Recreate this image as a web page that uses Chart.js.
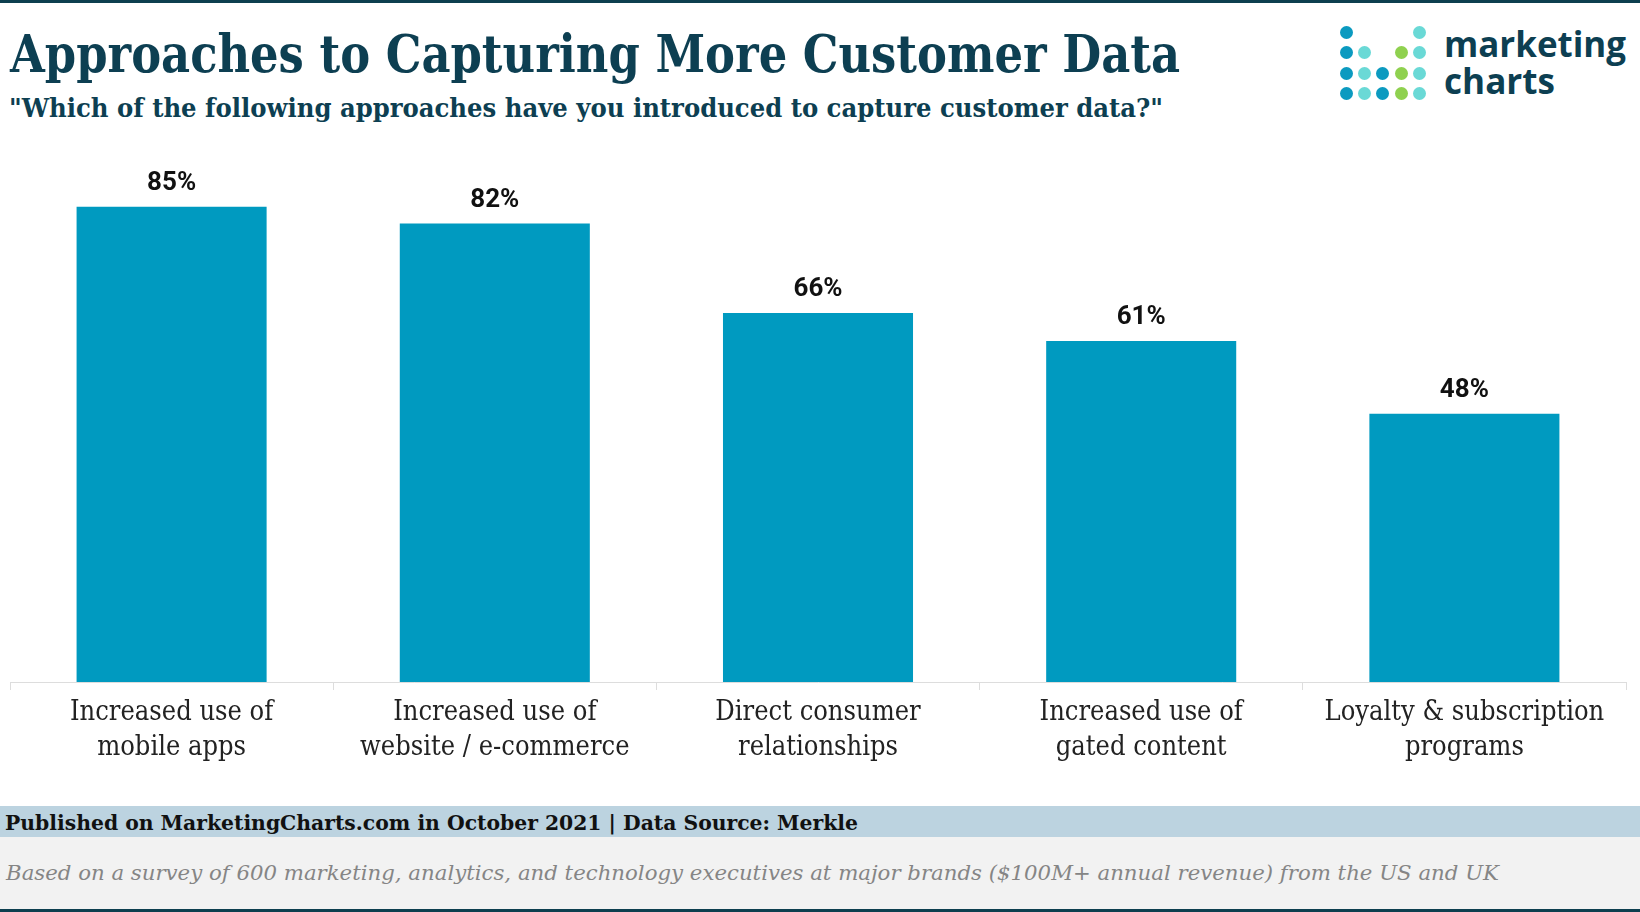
<!DOCTYPE html>
<html>
<head>
<meta charset="utf-8">
<script src="https://cdn.jsdelivr.net/npm/chart.js@4.4.0/dist/chart.umd.min.js"></script>
<style>
  html, body { margin: 0; padding: 0; background: #fff; }
  body { width: 1640px; height: 912px; position: relative; overflow: hidden; }
  .fit { position: absolute; white-space: nowrap; transform-origin: 0 0; }
  #topline { position: absolute; left: 0; top: 0; width: 1640px; height: 3px; background: #0d3f4f; }
  #title { left: 10px; top: 22px; font: bold 52px "DejaVu Serif Condensed", "DejaVu Serif", serif; color: #0d3f52; line-height: 64px; }
  #subtitle { left: 9px; top: 93px; font: bold 26px "DejaVu Serif Condensed", "DejaVu Serif", serif; color: #0d3f52; line-height: 30px; }
  .dot { position: absolute; width: 13px; height: 13px; border-radius: 50%; }
  .logo-txt { font: bold 35px "Open Sans", sans-serif; color: #0d3f52; line-height: 40px; }
  #chartbox { position: absolute; left: 0; top: 120px; width: 1640px; height: 660px; }
  #pubband { position: absolute; left: 0; top: 806px; width: 1640px; height: 31px; background: #bcd3e0; }
  #pub { left: 5px; top: 811px; font: bold 21px "DejaVu Serif Condensed", "DejaVu Serif", serif; color: #111; line-height: 24px; }
  #noteband { position: absolute; left: 0; top: 837px; width: 1640px; height: 72px; background: #f2f2f2; }
  #note { left: 6px; top: 861px; font: italic 20px "DejaVu Serif Condensed", "DejaVu Serif", serif; color: #858585; line-height: 24px; }
  #bottomline { position: absolute; left: 0; top: 909px; width: 1640px; height: 3px; background: #0d3f4f; }
</style>
</head>
<body>
<div id="topline"></div>
<div id="title" class="fit" data-w="1170">Approaches to Capturing More Customer Data</div>
<div id="subtitle" class="fit" data-w="1154">"Which of the following approaches have you introduced to capture customer data?"</div>
<div id="logo"></div>
<div class="fit logo-txt" data-w="182" style="left:1444px; top:24px;">marketing</div>
<div class="fit logo-txt" data-w="111" style="left:1444px; top:61px;">charts</div>
<div id="chartbox"><canvas id="chart"></canvas></div>
<div id="pubband"></div>
<div id="pub" class="fit" data-w="853">Published on MarketingCharts.com in October 2021 | Data Source: Merkle</div>
<div id="noteband"></div>
<div id="note" class="fit" data-w="1493">Based on a survey of 600 marketing, analytics, and technology executives at major brands ($100M+ annual revenue) from the US and UK</div>
<div id="bottomline"></div>
<script>
// chart data
const categories = [
  ['Increased use of', 'mobile apps'],
  ['Increased use of', 'website / e-commerce'],
  ['Direct consumer', 'relationships'],
  ['Increased use of', 'gated content'],
  ['Loyalty & subscription', 'programs']
];
const shares = [85, 82, 66, 61, 48];

// logo dots: columns of colours, null = empty
const logoCols = [
  ['#0b9ac0', '#0b9ac0', '#0b9ac0', '#0b9ac0'],
  [null, '#6ad9d6', '#6ad9d6', '#6ad9d6'],
  [null, null, '#0b9ac0', '#0b9ac0'],
  [null, '#8fd14f', '#8fd14f', '#8fd14f'],
  ['#6ad9d6', '#6ad9d6', '#6ad9d6', '#6ad9d6']
];
const logo = document.getElementById('logo');
logoCols.forEach((col, i) => {
  col.forEach((c, j) => {
    if (!c) return;
    const d = document.createElement('div');
    d.className = 'dot';
    d.style.background = c;
    d.style.left = (1340 + i * 18.2) + 'px';
    d.style.top = (26 + j * 20.3) + 'px';
    logo.appendChild(d);
  });
});

// squeeze text to the width in the reference
document.querySelectorAll('.fit').forEach(el => {
  const w = el.getBoundingClientRect().width;
  const target = +el.dataset.w;
  el.style.transform = 'scaleX(' + (target / w) + ')';
});

const valueLabels = {
  id: 'valueLabels',
  afterDatasetsDraw(chart) {
    const ctx = chart.ctx;
    const meta = chart.getDatasetMeta(0);
    ctx.save();
    ctx.font = 'bold 26px Roboto, sans-serif';
    ctx.fillStyle = '#111';
    ctx.textAlign = 'center';
    ctx.textBaseline = 'alphabetic';
    meta.data.forEach((bar, i) => {
      ctx.fillText(shares[i] + '%', bar.x, bar.y - 17);
    });
    ctx.restore();
  }
};

new Chart(document.getElementById('chart'), {
  type: 'bar',
  data: {
    labels: categories,
    datasets: [{
      data: shares,
      backgroundColor: '#009ac0',
      borderWidth: 0,
      categoryPercentage: 1,
      barPercentage: 0.588
    }]
  },
  options: {
    responsive: true,
    maintainAspectRatio: false,
    animation: false,
    layout: { padding: { left: 10, right: 14, top: 3, bottom: 0 } },
    plugins: { legend: { display: false }, tooltip: { enabled: false } },
    scales: {
      y: { display: false, min: 0, max: 100 },
      x: {
        afterFit: (scale) => { scale.height = 98; },
        grid: { offset: true, drawOnChartArea: false, drawTicks: true, tickLength: 8, color: '#dddddd' },
        border: { display: true, color: '#dddddd', width: 1 },
        ticks: {
          color: '#222',
          padding: 5,
          maxRotation: 0,
          font: { family: '"DejaVu Serif Condensed", "DejaVu Serif", serif', size: 27, lineHeight: 1.3 }
        }
      }
    }
  },
  plugins: [valueLabels]
});
</script>
</body>
</html>
